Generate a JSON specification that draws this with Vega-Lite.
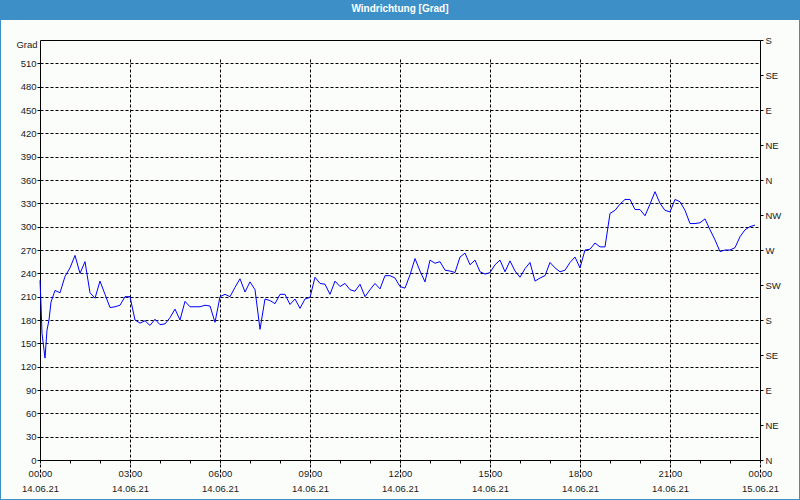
{
  "$schema": "https://vega.github.io/schema/vega-lite/v6.json",
  "background": "#3c8fc7",
  "padding": {"left": 1, "right": 1, "top": 20, "bottom": 1},
  "autosize": {"type": "none"},
  "width": 798,
  "height": 479,
  "title": {
    "text": "Windrichtung [Grad]",
    "color": "#ffffff",
    "fontWeight": "bold",
    "fontSize": 10,
    "font": "Liberation Sans",
    "anchor": "middle",
    "frame": "group",
    "offset": 6
  },
  "config": {
    "view": {"stroke": null, "fill": "#fbfdfb"},
    "font": "Liberation Sans",
    "axis": {
      "labelFont": "Liberation Sans",
      "labelFontSize": 9.5,
      "labelColor": "#1a1a1a",
      "titleFont": "Liberation Sans",
      "titleFontSize": 9.5,
      "titleFontWeight": "normal",
      "titleColor": "#1a1a1a",
      "domainColor": "#000000",
      "domainWidth": 1,
      "tickColor": "#000000",
      "tickSize": 3,
      "gridColor": "#000000",
      "gridOpacity": 1,
      "gridDash": [3, 2],
      "gridWidth": 1
    }
  },
  "data": {
    "values": [
      {"t": "2021-06-14T00:00", "v": 231},
      {"t": "2021-06-14T00:02", "v": 200},
      {"t": "2021-06-14T00:04", "v": 163},
      {"t": "2021-06-14T00:10", "v": 131},
      {"t": "2021-06-14T00:14", "v": 167},
      {"t": "2021-06-14T00:18", "v": 180},
      {"t": "2021-06-14T00:22", "v": 203},
      {"t": "2021-06-14T00:30", "v": 218},
      {"t": "2021-06-14T00:40", "v": 215},
      {"t": "2021-06-14T00:50", "v": 236},
      {"t": "2021-06-14T01:00", "v": 247},
      {"t": "2021-06-14T01:10", "v": 263},
      {"t": "2021-06-14T01:20", "v": 240},
      {"t": "2021-06-14T01:30", "v": 255},
      {"t": "2021-06-14T01:40", "v": 215},
      {"t": "2021-06-14T01:50", "v": 208},
      {"t": "2021-06-14T02:00", "v": 230},
      {"t": "2021-06-14T02:10", "v": 213},
      {"t": "2021-06-14T02:20", "v": 196},
      {"t": "2021-06-14T02:30", "v": 197},
      {"t": "2021-06-14T02:40", "v": 199},
      {"t": "2021-06-14T02:50", "v": 210},
      {"t": "2021-06-14T03:00", "v": 210},
      {"t": "2021-06-14T03:10", "v": 180},
      {"t": "2021-06-14T03:20", "v": 176},
      {"t": "2021-06-14T03:30", "v": 179},
      {"t": "2021-06-14T03:40", "v": 173},
      {"t": "2021-06-14T03:50", "v": 181},
      {"t": "2021-06-14T04:00", "v": 174},
      {"t": "2021-06-14T04:10", "v": 175},
      {"t": "2021-06-14T04:20", "v": 183},
      {"t": "2021-06-14T04:30", "v": 194},
      {"t": "2021-06-14T04:40", "v": 180},
      {"t": "2021-06-14T04:50", "v": 204},
      {"t": "2021-06-14T05:00", "v": 197},
      {"t": "2021-06-14T05:10", "v": 197},
      {"t": "2021-06-14T05:20", "v": 197},
      {"t": "2021-06-14T05:30", "v": 199},
      {"t": "2021-06-14T05:40", "v": 198},
      {"t": "2021-06-14T05:50", "v": 177},
      {"t": "2021-06-14T06:00", "v": 210},
      {"t": "2021-06-14T06:10", "v": 213},
      {"t": "2021-06-14T06:20", "v": 210},
      {"t": "2021-06-14T06:30", "v": 222},
      {"t": "2021-06-14T06:40", "v": 233},
      {"t": "2021-06-14T06:50", "v": 216},
      {"t": "2021-06-14T07:00", "v": 229},
      {"t": "2021-06-14T07:10", "v": 219},
      {"t": "2021-06-14T07:20", "v": 168},
      {"t": "2021-06-14T07:30", "v": 207},
      {"t": "2021-06-14T07:40", "v": 205},
      {"t": "2021-06-14T07:50", "v": 201},
      {"t": "2021-06-14T08:00", "v": 213},
      {"t": "2021-06-14T08:10", "v": 213},
      {"t": "2021-06-14T08:20", "v": 200},
      {"t": "2021-06-14T08:30", "v": 207},
      {"t": "2021-06-14T08:40", "v": 195},
      {"t": "2021-06-14T08:50", "v": 207},
      {"t": "2021-06-14T09:00", "v": 209},
      {"t": "2021-06-14T09:10", "v": 235},
      {"t": "2021-06-14T09:20", "v": 227},
      {"t": "2021-06-14T09:30", "v": 226},
      {"t": "2021-06-14T09:40", "v": 213},
      {"t": "2021-06-14T09:50", "v": 230},
      {"t": "2021-06-14T10:00", "v": 223},
      {"t": "2021-06-14T10:10", "v": 227},
      {"t": "2021-06-14T10:20", "v": 219},
      {"t": "2021-06-14T10:30", "v": 217},
      {"t": "2021-06-14T10:40", "v": 226},
      {"t": "2021-06-14T10:50", "v": 210},
      {"t": "2021-06-14T11:00", "v": 219},
      {"t": "2021-06-14T11:10", "v": 227},
      {"t": "2021-06-14T11:20", "v": 220},
      {"t": "2021-06-14T11:30", "v": 237},
      {"t": "2021-06-14T11:40", "v": 237},
      {"t": "2021-06-14T11:50", "v": 234},
      {"t": "2021-06-14T12:00", "v": 223},
      {"t": "2021-06-14T12:10", "v": 221},
      {"t": "2021-06-14T12:20", "v": 238},
      {"t": "2021-06-14T12:30", "v": 259},
      {"t": "2021-06-14T12:40", "v": 243},
      {"t": "2021-06-14T12:50", "v": 229},
      {"t": "2021-06-14T13:00", "v": 257},
      {"t": "2021-06-14T13:10", "v": 253},
      {"t": "2021-06-14T13:20", "v": 255},
      {"t": "2021-06-14T13:30", "v": 244},
      {"t": "2021-06-14T13:40", "v": 243},
      {"t": "2021-06-14T13:50", "v": 241},
      {"t": "2021-06-14T14:00", "v": 261},
      {"t": "2021-06-14T14:10", "v": 266},
      {"t": "2021-06-14T14:20", "v": 251},
      {"t": "2021-06-14T14:30", "v": 257},
      {"t": "2021-06-14T14:40", "v": 242},
      {"t": "2021-06-14T14:50", "v": 239},
      {"t": "2021-06-14T15:00", "v": 241},
      {"t": "2021-06-14T15:10", "v": 251},
      {"t": "2021-06-14T15:20", "v": 257},
      {"t": "2021-06-14T15:30", "v": 242},
      {"t": "2021-06-14T15:40", "v": 256},
      {"t": "2021-06-14T15:50", "v": 243},
      {"t": "2021-06-14T16:00", "v": 235},
      {"t": "2021-06-14T16:10", "v": 246},
      {"t": "2021-06-14T16:20", "v": 254},
      {"t": "2021-06-14T16:30", "v": 230},
      {"t": "2021-06-14T16:40", "v": 234},
      {"t": "2021-06-14T16:50", "v": 237},
      {"t": "2021-06-14T17:00", "v": 254},
      {"t": "2021-06-14T17:10", "v": 247},
      {"t": "2021-06-14T17:20", "v": 242},
      {"t": "2021-06-14T17:30", "v": 244},
      {"t": "2021-06-14T17:40", "v": 254},
      {"t": "2021-06-14T17:50", "v": 261},
      {"t": "2021-06-14T18:00", "v": 247},
      {"t": "2021-06-14T18:10", "v": 270},
      {"t": "2021-06-14T18:20", "v": 271},
      {"t": "2021-06-14T18:30", "v": 279},
      {"t": "2021-06-14T18:40", "v": 274},
      {"t": "2021-06-14T18:50", "v": 274},
      {"t": "2021-06-14T19:00", "v": 317},
      {"t": "2021-06-14T19:10", "v": 321},
      {"t": "2021-06-14T19:20", "v": 329},
      {"t": "2021-06-14T19:30", "v": 335},
      {"t": "2021-06-14T19:40", "v": 335},
      {"t": "2021-06-14T19:50", "v": 322},
      {"t": "2021-06-14T20:00", "v": 322},
      {"t": "2021-06-14T20:10", "v": 314},
      {"t": "2021-06-14T20:20", "v": 329},
      {"t": "2021-06-14T20:30", "v": 345},
      {"t": "2021-06-14T20:40", "v": 330},
      {"t": "2021-06-14T20:50", "v": 321},
      {"t": "2021-06-14T21:00", "v": 319},
      {"t": "2021-06-14T21:10", "v": 335},
      {"t": "2021-06-14T21:20", "v": 332},
      {"t": "2021-06-14T21:30", "v": 321},
      {"t": "2021-06-14T21:40", "v": 304},
      {"t": "2021-06-14T21:50", "v": 304},
      {"t": "2021-06-14T22:00", "v": 305},
      {"t": "2021-06-14T22:10", "v": 310},
      {"t": "2021-06-14T22:20", "v": 296},
      {"t": "2021-06-14T22:30", "v": 283},
      {"t": "2021-06-14T22:40", "v": 268},
      {"t": "2021-06-14T22:50", "v": 270},
      {"t": "2021-06-14T23:00", "v": 270},
      {"t": "2021-06-14T23:10", "v": 273},
      {"t": "2021-06-14T23:20", "v": 287},
      {"t": "2021-06-14T23:30", "v": 296},
      {"t": "2021-06-14T23:40", "v": 300},
      {"t": "2021-06-14T23:50", "v": 302}
    ]
  },
  "layer": [
    {
      "mark": {"type": "line", "color": "#0000ff", "strokeWidth": 1, "opacity": 0},
      "encoding": {
        "x": {
          "field": "t", "type": "temporal",
          "scale": {"domain": [{"year": 2021, "month": 6, "date": 14}, {"year": 2021, "month": 6, "date": 15}], "range": [39, 759], "nice": false},
          "axis": {"orient": "top", "offset": -20, "labels": false, "ticks": false, "grid": false, "domain": true, "title": null}
        },
        "y": {
          "field": "v", "type": "quantitative",
          "scale": {"domain": [0, 540], "range": [440, 20], "nice": false, "zero": false},
          "axis": {
            "orient": "right", "offset": -39, "title": null, "grid": false,
            "values": [0, 45, 90, 135, 180, 225, 270, 315, 360, 405, 450, 495, 540],
            "labelExpr": "datum.value % 360 == 0 ? 'N' : datum.value % 360 == 45 ? 'NE' : datum.value % 360 == 90 ? 'E' : datum.value % 360 == 135 ? 'SE' : datum.value % 360 == 180 ? 'S' : datum.value % 360 == 225 ? 'SW' : datum.value % 360 == 270 ? 'W' : 'NW'",
            "labelPadding": 2
          }
        }
      }
    },
    {
      "mark": {"type": "line", "color": "#0000ff", "strokeWidth": 1, "opacity": 0},
      "encoding": {
        "x": {
          "field": "t", "type": "temporal",
          "axis": {
            "orient": "bottom", "offset": -39, "title": null,
            "labels": false, "grid": false, "domain": false, "ticks": true,
            "values": [
              {"year": 2021, "month": 6, "date": 14, "hours": 1},
              {"year": 2021, "month": 6, "date": 14, "hours": 2},
              {"year": 2021, "month": 6, "date": 14, "hours": 4},
              {"year": 2021, "month": 6, "date": 14, "hours": 5},
              {"year": 2021, "month": 6, "date": 14, "hours": 7},
              {"year": 2021, "month": 6, "date": 14, "hours": 8},
              {"year": 2021, "month": 6, "date": 14, "hours": 10},
              {"year": 2021, "month": 6, "date": 14, "hours": 11},
              {"year": 2021, "month": 6, "date": 14, "hours": 13},
              {"year": 2021, "month": 6, "date": 14, "hours": 14},
              {"year": 2021, "month": 6, "date": 14, "hours": 16},
              {"year": 2021, "month": 6, "date": 14, "hours": 17},
              {"year": 2021, "month": 6, "date": 14, "hours": 19},
              {"year": 2021, "month": 6, "date": 14, "hours": 20},
              {"year": 2021, "month": 6, "date": 14, "hours": 22},
              {"year": 2021, "month": 6, "date": 14, "hours": 23}
            ]
          }
        },
        "y": {"field": "v", "type": "quantitative", "axis": null}
      }
    },
    {
      "mark": {"type": "line", "color": "#0000ff", "strokeWidth": 1},
      "encoding": {
        "x": {
          "field": "t", "type": "temporal",
          "axis": {
            "orient": "bottom", "offset": -39, "title": null, "grid": true,
            "values": [
              {"year": 2021, "month": 6, "date": 14, "hours": 0},
              {"year": 2021, "month": 6, "date": 14, "hours": 3},
              {"year": 2021, "month": 6, "date": 14, "hours": 6},
              {"year": 2021, "month": 6, "date": 14, "hours": 9},
              {"year": 2021, "month": 6, "date": 14, "hours": 12},
              {"year": 2021, "month": 6, "date": 14, "hours": 15},
              {"year": 2021, "month": 6, "date": 14, "hours": 18},
              {"year": 2021, "month": 6, "date": 14, "hours": 21},
              {"year": 2021, "month": 6, "date": 15, "hours": 0}
            ],
            "labelExpr": "[timeFormat(datum.value, '%H:%M'), timeFormat(datum.value, '%d.%m.%y')]",
            "labelOverlap": false, "labelFlush": false,
            "labelLineHeight": 15, "labelPadding": 5
          }
        },
        "y": {
          "field": "v", "type": "quantitative",
          "axis": {
            "orient": "left", "offset": -39, "grid": true,
            "values": [0, 30, 60, 90, 120, 150, 180, 210, 240, 270, 300, 330, 360, 390, 420, 450, 480, 510],
            "title": "Grad", "titleAngle": 0, "titleAlign": "right", "titleBaseline": "middle",
            "titleX": -3, "titleY": 24, "labelPadding": 1
          }
        }
      }
    }
  ],
  "resolve": {"axis": {"x": "independent", "y": "independent"}}
}
